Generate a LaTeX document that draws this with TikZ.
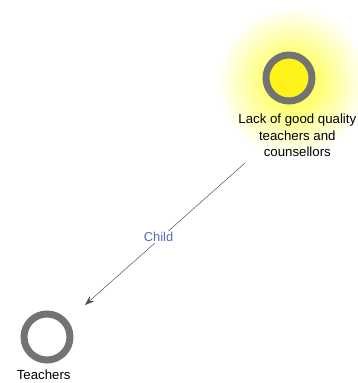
\documentclass[tikz,border=0pt]{standalone}
\usepackage{fontspec}
\setmainfont{Liberation Sans}
\usetikzlibrary{arrows.meta,positioning}
\definecolor{childblue}{RGB}{85,110,185}
\tikzset{ring/.style={circle,draw=black!55,line width=2.1mm,minimum size=1.38cm,inner sep=0pt},
  lbl/.style={align=center,font=\fontsize{11.3}{14.2}\selectfont,inner sep=1pt},
  arr/.style={-{Stealth[length=2.8mm,width=2mm]},draw=black!70,thin}}
\begin{document}
\begin{tikzpicture}[x=0.03cm,y=-0.03cm]
\useasboundingbox (0,0) rectangle (358,383);
\shade[inner color=yellow!85,outer color=white] (292,82) circle (75);
\node[ring,fill=yellow!90] (lack) at (289,78) {};
\node[lbl,below=0.24cm of lack,xshift=0.25cm] (lacktxt) {Lack of good quality\\teachers and\\counsellors};
\node[ring] (teach) at (47,337) {};
\node[lbl,below=0.16cm of teach,xshift=-0.1cm] (teachtxt) {Teachers};
\coordinate (from) at (245,163);
\coordinate (to) at (85,305);
\draw[arr] (from) -- node[pos=0.54,fill=white,inner sep=1pt,yshift=2pt,text=childblue,font=\fontsize{11}{12}\selectfont]{Child} (to);
\end{tikzpicture}
\end{document}
